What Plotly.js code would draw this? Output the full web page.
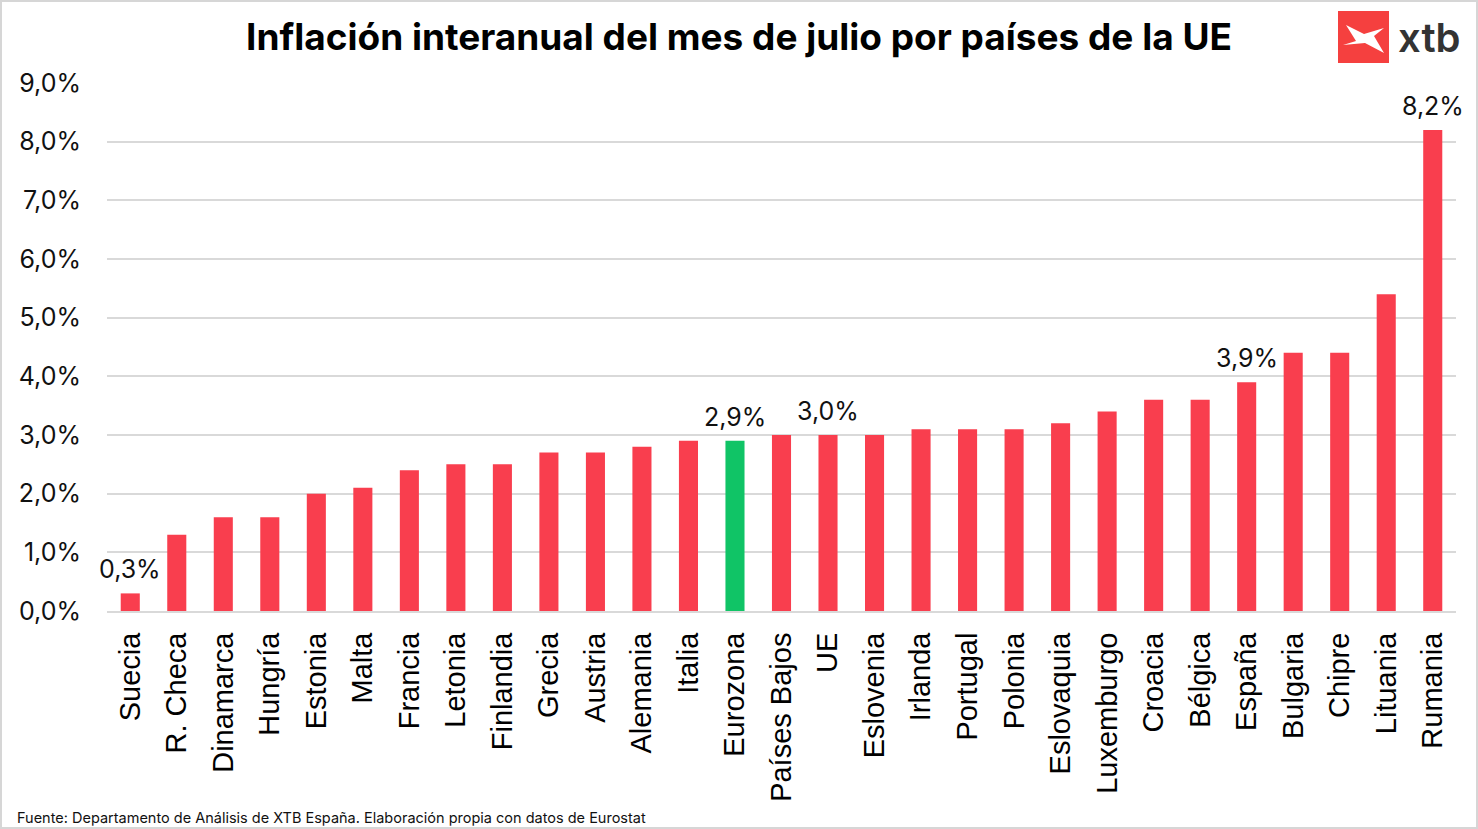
<!DOCTYPE html>
<html>
<head>
<meta charset="utf-8">
<script src="https://cdn.plot.ly/plotly-3.0.1.min.js"></script>
<style>
html,body{margin:0;padding:0;background:#fff;}
#wrap{position:relative;width:1478px;height:829px;}
#chart{width:1478px;height:829px;}
#frame{position:absolute;left:0;top:0;width:1478px;height:829px;box-sizing:border-box;border:2px solid #d6d6d6;pointer-events:none;}
</style>
</head>
<body>
<div id="wrap"><div id="chart"></div><div id="frame"></div></div>
<script>
const countries = ["Suecia","R. Checa","Dinamarca","Hungría","Estonia","Malta","Francia","Letonia","Finlandia","Grecia","Austria","Alemania","Italia","Eurozona","Países Bajos","UE","Eslovenia","Irlanda","Portugal","Polonia","Eslovaquia","Luxemburgo","Croacia","Bélgica","España","Bulgaria","Chipre","Lituania","Rumania"];
const inflation = [0.3,1.3,1.6,1.6,2.0,2.1,2.4,2.5,2.5,2.7,2.7,2.8,2.9,2.9,3.0,3.0,3.0,3.1,3.1,3.1,3.2,3.4,3.6,3.6,3.9,4.4,4.4,5.4,8.2];
const labelled = ["Suecia","Eurozona","UE","España","Rumania"];
const highlight = "Eurozona";
const yTicks = [0,1,2,3,4,5,6,7,8,9];
const yTickText = ["0,0%","1,0%","2,0%","3,0%","4,0%","5,0%","6,0%","7,0%","8,0%","9,0%"];
const titleText = "Inflación interanual del mes de julio por países de la UE";
const sourceText = "Fuente: Departamento de Análisis de XTB España. Elaboración propia con datos de Eurostat";

const fmt = v => v.toFixed(1).replace(".", ",") + "%";
const barColors = countries.map(c => c === highlight ? "#10C466" : "#F93E4E");

const trace = {
  type: "bar",
  x: countries,
  y: inflation,
  marker: {color: barColors},
  hoverinfo: "x+y"
};

const valueAnnotations = countries
  .map((c, i) => ({c, v: inflation[i]}))
  .filter(d => labelled.includes(d.c))
  .map(d => ({
    text: fmt(d.v), x: d.c, y: d.v, xref: "x", yref: "y",
    xanchor: "center", yanchor: "bottom", yshift: 7, showarrow: false,
    font: {family: "Inter, Roboto, sans-serif", size: 25, color: "#111"}
  }));

const layout = {
  width: 1478, height: 829,
  margin: {l: 107, r: 22, t: 83, b: 218},
  paper_bgcolor: "#fff", plot_bgcolor: "#fff",
  bargap: 0.59,
  showlegend: false,
  title: {text: "<b>" + titleText + "</b>", x: 0.5, xanchor: "center", y: 0.955, yanchor: "middle",
    font: {family: "Inter, sans-serif", size: 37, color: "#000", weight: 900}},
  xaxis: {
    type: "category",
    range: [-0.5, countries.length - 0.5],
    autorange: false,
    tickangle: -90,
    tickfont: {family: "Liberation Sans, Arial, sans-serif", size: 29, color: "#000"},
    showgrid: false, zeroline: false,
    showline: true, linecolor: "#d9d9d9", linewidth: 2,
    ticks: "", ticklabelstandoff: 8
  },
  yaxis: {
    range: [0, 9],
    autorange: false,
    tickvals: yTicks, ticktext: yTickText,
    tickfont: {family: "Inter, Roboto, sans-serif", size: 25, color: "#111"},
    showgrid: true, gridcolor: "#d9d9d9", gridwidth: 2,
    zeroline: false, showline: false, ticks: "",
    ticklabelstandoff: 25, fixedrange: true
  },
  shapes: [
    {type: "rect", xref: "paper", yref: "paper", xsizemode: "pixel", ysizemode: "pixel",
     xanchor: 1, yanchor: 1, x0: -118, x1: -67, y0: 72, y1: 20,
     fillcolor: "#F5403F", line: {width: 0}},
    {type: "path", xref: "paper", yref: "paper", xsizemode: "pixel", ysizemode: "pixel",
     xanchor: 1, yanchor: 1,
     path: "M -113,38 L -100,42 L -110,58 L -92,49 L -72,55 L -82,47 L -72,30 L -91,40 Z",
     fillcolor: "#fff", line: {width: 0}}
  ],
  annotations: valueAnnotations.concat([
    {text: "xtb", xref: "paper", yref: "paper", x: 1, y: 1, xanchor: "left", yanchor: "middle",
     xshift: -60, yshift: 46, showarrow: false,
     font: {family: "Inter, sans-serif", size: 40, color: "#333", weight: 600}},
    {text: sourceText, xref: "paper", yref: "paper", x: 0, y: 0, xanchor: "left", yanchor: "middle",
     xshift: -92, yshift: -206, showarrow: false,
     font: {family: "Inter, sans-serif", size: 14.5, color: "#111"}}
  ])
};

Plotly.newPlot("chart", [trace], layout, {displayModeBar: false, responsive: false});
</script>
</body>
</html>
